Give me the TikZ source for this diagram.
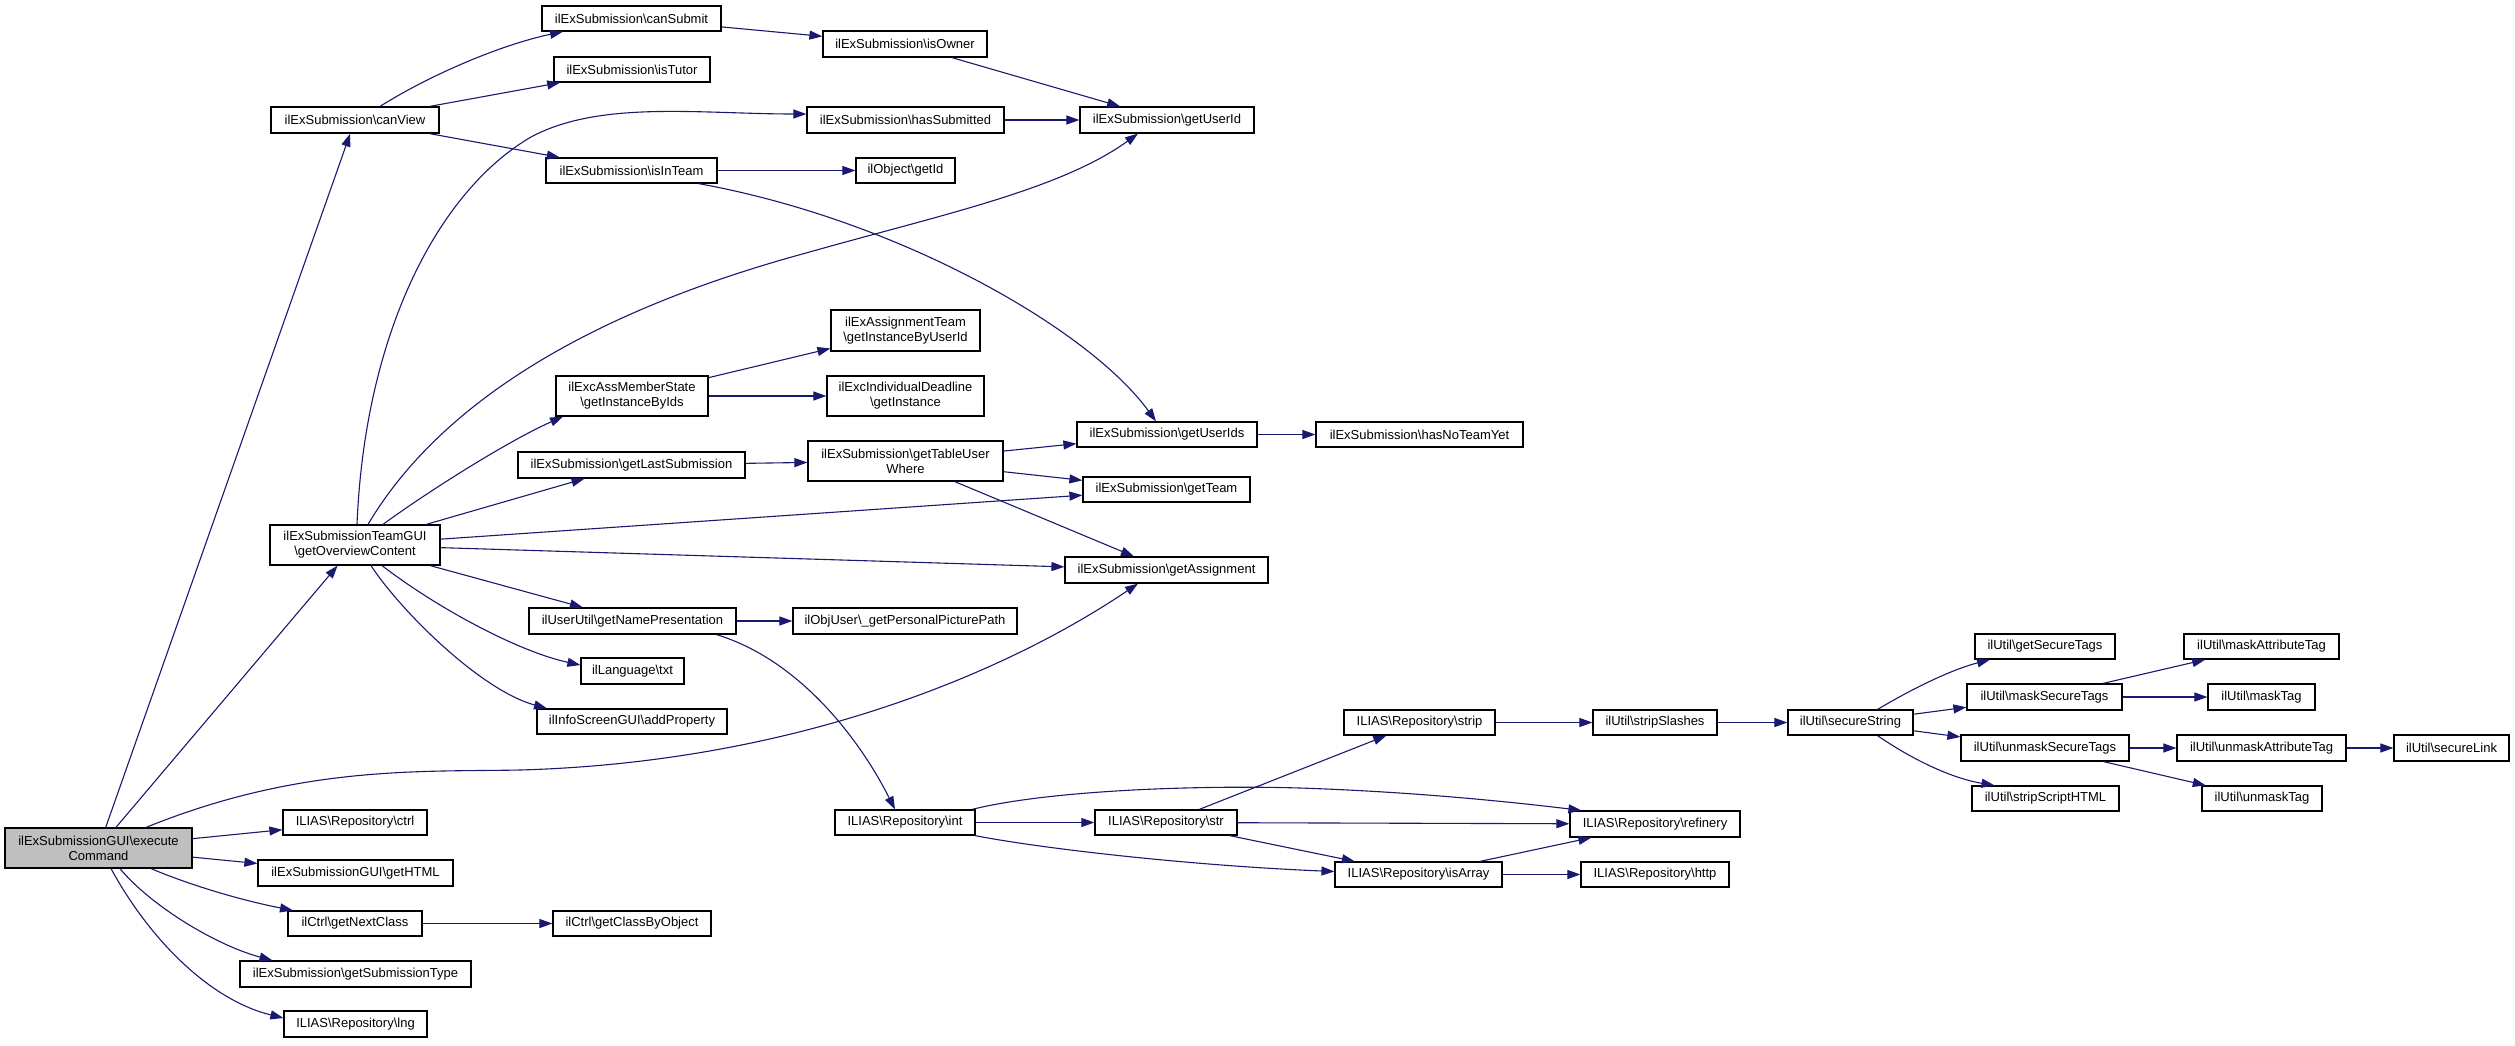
\documentclass[tikz,border=0pt]{standalone}
\usepackage{fontspec}
\setmainfont{Liberation Sans}
\usetikzlibrary{arrows.meta}
\definecolor{edgec}{HTML}{191970}
\definecolor{boxgray}{HTML}{BFBFBF}
\newcommand{\bs}{\textbackslash{}}
\tikzset{
  fn/.style={draw=black, line width=1.2pt, fill=white, inner sep=0pt, align=center, font=\fontsize{13}{15}\selectfont},
  call/.style={draw=edgec, line width=1.1pt, -{Triangle[length=13pt,width=9pt,fill=edgec]}},
}
\begin{document}
\begin{tikzpicture}[x=1pt,y=-1pt]
\useasboundingbox (0,0) rectangle (2515,1045);
\fill[white] (0,0) rectangle (2515,1045);
% column 1
\node[fn, fill=boxgray, minimum width=187, minimum height=40] (ec) at (98.5,848) {ilExSubmissionGUI\bs execute\\Command};
% column 2
\node[fn, minimum width=168, minimum height=26] (cv) at (355,120) {ilExSubmission\bs canView};
\node[fn, minimum width=170, minimum height=40] (goc) at (355,545) {ilExSubmissionTeamGUI\\\bs getOverviewContent};
\node[fn, minimum width=144, minimum height=25] (ctrl) at (355,822.5) {ILIAS\bs Repository\bs ctrl};
\node[fn, minimum width=195, minimum height=26] (html) at (355.5,873) {ilExSubmissionGUI\bs getHTML};
\node[fn, minimum width=134, minimum height=25] (gnc) at (355,923.5) {ilCtrl\bs getNextClass};
\node[fn, minimum width=231, minimum height=26] (gstype) at (355.5,974) {ilExSubmission\bs getSubmissionType};
\node[fn, minimum width=143, minimum height=26] (lng) at (355.5,1024) {ILIAS\bs Repository\bs lng};
% column 3
\node[fn, minimum width=179, minimum height=25] (cs) at (631.5,18.5) {ilExSubmission\bs canSubmit};
\node[fn, minimum width=156, minimum height=25] (tutor) at (632,69.5) {ilExSubmission\bs isTutor};
\node[fn, minimum width=171, minimum height=25] (iit) at (631.5,170.5) {ilExSubmission\bs isInTeam};
\node[fn, minimum width=152, minimum height=40] (ams) at (632,396) {ilExcAssMemberState\\\bs getInstanceByIds};
\node[fn, minimum width=227, minimum height=26] (gls) at (631.5,465) {ilExSubmission\bs getLastSubmission};
\node[fn, minimum width=207, minimum height=26] (gnp) at (632.5,621) {ilUserUtil\bs getNamePresentation};
\node[fn, minimum width=103, minimum height=26] (txt) at (632.5,671) {ilLanguage\bs txt};
\node[fn, minimum width=190, minimum height=25] (ap) at (632,721.5) {ilInfoScreenGUI\bs addProperty};
\node[fn, minimum width=158, minimum height=25] (gcbo) at (632,923.5) {ilCtrl\bs getClassByObject};
% column 4
\node[fn, minimum width=164, minimum height=26] (io) at (905,44) {ilExSubmission\bs isOwner};
\node[fn, minimum width=197, minimum height=26] (hs) at (905.5,120) {ilExSubmission\bs hasSubmitted};
\node[fn, minimum width=99, minimum height=25] (gid) at (905.5,170.5) {ilObject\bs getId};
\node[fn, minimum width=149, minimum height=41] (at) at (905.5,330.5) {ilExAssignmentTeam\\\bs getInstanceByUserId};
\node[fn, minimum width=157, minimum height=40] (idl) at (905.5,396) {ilExcIndividualDeadline\\\bs getInstance};
\node[fn, minimum width=195, minimum height=40] (gtuw) at (905.5,461) {ilExSubmission\bs getTableUser\\Where};
\node[fn, minimum width=224, minimum height=26] (ou) at (905,621) {ilObjUser\bs \_getPersonalPicturePath};
\node[fn, minimum width=140, minimum height=25] (int) at (905,822.5) {ILIAS\bs Repository\bs int};
% column 5
\node[fn, minimum width=174, minimum height=26] (gui) at (1167,120) {ilExSubmission\bs getUserId};
\node[fn, minimum width=180, minimum height=25] (guis) at (1167,434.5) {ilExSubmission\bs getUserIds};
\node[fn, minimum width=167, minimum height=25] (gt) at (1166.5,489.5) {ilExSubmission\bs getTeam};
\node[fn, minimum width=203, minimum height=26] (ga) at (1166.5,570) {ilExSubmission\bs getAssignment};
\node[fn, minimum width=142, minimum height=25] (str) at (1166,822.5) {ILIAS\bs Repository\bs str};
% column 6
\node[fn, minimum width=207, minimum height=25] (hnty) at (1419.5,434.5) {ilExSubmission\bs hasNoTeamYet};
\node[fn, minimum width=151, minimum height=25] (strip) at (1419.5,722.5) {ILIAS\bs Repository\bs strip};
\node[fn, minimum width=167, minimum height=25] (ia) at (1418.5,874.5) {ILIAS\bs Repository\bs isArray};
% column 7
\node[fn, minimum width=170, minimum height=26] (ref) at (1655,824) {ILIAS\bs Repository\bs refinery};
\node[fn, minimum width=148, minimum height=25] (http) at (1655,874.5) {ILIAS\bs Repository\bs http};
\node[fn, minimum width=124, minimum height=25] (sls) at (1655,722.5) {ilUtil\bs stripSlashes};
% column 8
\node[fn, minimum width=125, minimum height=25] (ss) at (1850.5,722.5) {ilUtil\bs secureString};
% column 9
\node[fn, minimum width=140, minimum height=25] (gst) at (2045,646.5) {ilUtil\bs getSecureTags};
\node[fn, minimum width=155, minimum height=26] (mst) at (2044.5,697) {ilUtil\bs maskSecureTags};
\node[fn, minimum width=168, minimum height=26] (ust) at (2045,748) {ilUtil\bs unmaskSecureTags};
\node[fn, minimum width=147, minimum height=25] (ssh) at (2045.5,798.5) {ilUtil\bs stripScriptHTML};
% column 10
\node[fn, minimum width=155, minimum height=25] (mat) at (2261.5,646.5) {ilUtil\bs maskAttributeTag};
\node[fn, minimum width=107, minimum height=26] (mt) at (2261.5,697) {ilUtil\bs maskTag};
\node[fn, minimum width=169, minimum height=26] (uat) at (2261.5,748) {ilUtil\bs unmaskAttributeTag};
\node[fn, minimum width=120, minimum height=25] (ut) at (2262,798.5) {ilUtil\bs unmaskTag};
% column 11
\node[fn, minimum width=115, minimum height=26] (sl) at (2451.5,748) {ilUtil\bs secureLink};

% ---- edges from executeCommand
\draw[call] (ec) -- (cv);
\draw[call] (ec) -- (goc);
\draw[call] ([xshift=47.5]ec.north) .. controls (300,765) and (420,772) .. (520,770) .. controls (800,762) and (1010,670) .. ([xshift=-28.5]ga.south);
\draw[call] (ec) -- (ctrl);
\draw[call] (ec) -- (html);
\draw[call] ([xshift=52.5]ec.south) .. controls (190,885) and (240,900) .. ([xshift=-62]gnc.north);
\draw[call] ([xshift=21.5]ec.south) .. controls (150,905) and (215,945) .. ([xshift=-83]gstype.north);
\draw[call] ([xshift=12.5]ec.south) .. controls (150,940) and (210,1000) .. ([yshift=6]lng.west);
% ---- canView
\draw[call] ([xshift=25]cv.north) .. controls (430,75) and (500,45) .. ([xshift=-68.5]cs.south);
\draw[call] (cv) -- (tutor);
\draw[call] (cv) -- (iit);
% ---- getOverviewContent
\draw[call] ([xshift=2]goc.north) .. controls (365,330) and (440,190) .. (531,137) .. controls (600,100) and (700,114) .. ([yshift=6]hs.west);
\draw[call] ([xshift=13]goc.north) .. controls (430,420) and (560,320) .. (806,253) .. controls (940,215) and (1060,190) .. ([xshift=-29]gui.south);
\draw[call] ([xshift=28]goc.north) .. controls (430,490) and (510,440) .. ([xshift=-69]ams.south);
\draw[call] (goc) -- (gls);
\draw[call] (goc) -- (gt);
\draw[call] (goc) -- (ga);
\draw[call] (goc) -- (gnp);
\draw[call] ([xshift=27]goc.south) .. controls (440,610) and (520,652) .. ([yshift=6]txt.west);
\draw[call] ([xshift=16]goc.south) .. controls (400,610) and (480,690) .. ([xshift=-85]ap.north);
% ---- level 3
\draw[call] (cs) -- (io);
\draw[call] (io) -- (gui);
\draw[call] (hs) -- (gui);
\draw[call] (iit) -- (gid);
\draw[call] ([xshift=67]iit.south) .. controls (900,220) and (1090,330) .. ([xshift=-11]guis.north);
\draw[call] (ams) -- (at);
\draw[call] (ams) -- (idl);
\draw[call] (gls) -- (gtuw);
\draw[call] (gtuw) -- (guis);
\draw[call] (gtuw) -- (gt);
\draw[call] (gtuw) -- (ga);
\draw[call] (guis) -- (hnty);
\draw[call] (gnp) -- (ou);
\draw[call] ([xshift=84]gnp.south) .. controls (800,660) and (860,740) .. ([xshift=-10]int.north);
\draw[call] (gnc) -- (gcbo);
% ---- repository
\draw[call] (int) -- (str);
\draw[call] ([xshift=67]int.north) .. controls (1050,790) and (1200,785) .. (1300,788) .. controls (1420,792) and (1520,803) .. ([xshift=12]ref.north west);
\draw[call] ([xshift=70]int.south) .. controls (1050,850) and (1200,866) .. ([yshift=3]ia.west);
\draw[call] (str) -- (strip);
\draw[call] (str) -- (ref);
\draw[call] (str) -- (ia);
\draw[call] (ia) -- (ref);
\draw[call] (ia) -- (http);
\draw[call] (strip) -- (sls);
\draw[call] (sls) -- (ss);
% ---- ilUtil
\draw[call] ([xshift=27]ss.north) .. controls (1910,690) and (1950,670) .. ([xshift=-55]gst.south);
\draw[call] (ss) -- (mst);
\draw[call] (ss) -- (ust);
\draw[call] ([xshift=27]ss.south) .. controls (1910,758) and (1950,778) .. ([xshift=-51]ssh.north);
\draw[call] (mst) -- (mat);
\draw[call] (mst) -- (mt);
\draw[call] (ust) -- (uat);
\draw[call] (ust) -- (ut);
\draw[call] (uat) -- (sl);
\end{tikzpicture}
\end{document}
